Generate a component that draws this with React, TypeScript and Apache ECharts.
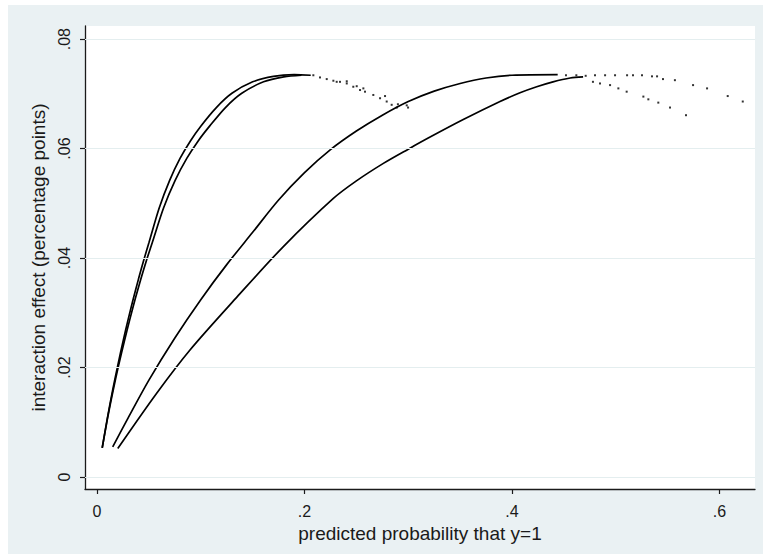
import React, { useEffect, useRef } from 'react';
import * as echarts from 'echarts';

const xTicks = [0, 0.2, 0.4, 0.6];
const xTickLabels = ['0', '.2', '.4', '.6'];
const yTicks = [0, 0.02, 0.04, 0.06, 0.08];
const yTickLabels = ['0', '.02', '.04', '.06', '.08'];

// Curve A (steepest, outer)
const aX = [0.005, 0.01, 0.015, 0.02, 0.025, 0.03, 0.035, 0.04, 0.045, 0.05, 0.06, 0.07, 0.08, 0.09, 0.1, 0.115, 0.13, 0.15, 0.17, 0.19, 0.206];
const aY = [0.0053, 0.0108, 0.0158, 0.0204, 0.0247, 0.0288, 0.0326, 0.0362, 0.0396, 0.0428, 0.0492, 0.0542, 0.0582, 0.0614, 0.0641, 0.0675, 0.0701, 0.0722, 0.0732, 0.0735, 0.0734];
const aTailX = [0.2085, 0.2149, 0.2214, 0.2278, 0.2342, 0.2407, 0.247, 0.2535, 0.2583, 0.2663, 0.2728, 0.2792, 0.284, 0.2889];
const aTailY = [0.0734, 0.073, 0.0727, 0.0724, 0.0722, 0.0719, 0.0713, 0.0707, 0.0704, 0.0698, 0.0692, 0.0686, 0.068, 0.0675];

// Curve B (steep, inner)
const bX = [0.005, 0.0102, 0.0155, 0.0208, 0.0262, 0.0316, 0.0369, 0.0423, 0.0477, 0.0532, 0.0642, 0.0753, 0.0865, 0.0975, 0.1085, 0.1238, 0.1395, 0.1605, 0.18, 0.197];
const bY = [0.0053, 0.0108, 0.0158, 0.0204, 0.0247, 0.0288, 0.0326, 0.0362, 0.0396, 0.0428, 0.0492, 0.0542, 0.0582, 0.0614, 0.0641, 0.0675, 0.0701, 0.0722, 0.0731, 0.0734];
const bTailX = [0.231, 0.2407, 0.2503, 0.2567, 0.2776, 0.29, 0.2985, 0.2998];
const bTailY = [0.0722, 0.0723, 0.0714, 0.071, 0.0696, 0.0681, 0.0679, 0.0675];

// Curve C (middle)
const cX = [0.0151, 0.03, 0.05, 0.075, 0.1, 0.125, 0.15, 0.175, 0.2, 0.225, 0.25, 0.275, 0.3, 0.325, 0.35, 0.375, 0.4, 0.444];
const cY = [0.0055, 0.0108, 0.0177, 0.0254, 0.0324, 0.0388, 0.0447, 0.0506, 0.0556, 0.0598, 0.0632, 0.0661, 0.0686, 0.0705, 0.0719, 0.0729, 0.0734, 0.0735];
const cTailX = [0.452, 0.462, 0.471, 0.48, 0.4897, 0.4993, 0.5109, 0.5166, 0.5253, 0.5349, 0.5398, 0.5455, 0.557, 0.5745, 0.588, 0.6079, 0.6224];
const cTailY = [0.0734, 0.0734, 0.0733, 0.0734, 0.0734, 0.0734, 0.0734, 0.0734, 0.0734, 0.0732, 0.0732, 0.0727, 0.0725, 0.0716, 0.071, 0.0696, 0.0686];

// Curve D (rightmost)
const dX = [0.02, 0.0575, 0.0896, 0.135, 0.1796, 0.2278, 0.25, 0.276, 0.3, 0.321, 0.353, 0.3884, 0.4077, 0.4238, 0.4395, 0.456, 0.4685];
const dY = [0.0052, 0.0153, 0.0232, 0.0329, 0.0421, 0.0509, 0.0541, 0.0573, 0.0599, 0.0621, 0.0653, 0.0686, 0.0702, 0.0713, 0.0722, 0.0729, 0.0731];
const dTailX = [0.478, 0.4848, 0.4945, 0.5025, 0.5105, 0.5266, 0.5314, 0.541, 0.5523, 0.5677];
const dTailY = [0.0722, 0.0719, 0.0716, 0.071, 0.0704, 0.0695, 0.069, 0.0684, 0.0675, 0.0661];

const zip = (xs: number[], ys: number[]) => xs.map((x, i) => [x, ys[i]]);
const fmt = (ticks: number[], labels: string[]) => (v: number) => {
  const i = ticks.findIndex((t) => Math.abs(t - v) < 1e-9);
  return i >= 0 ? labels[i] : '';
};

const FONT = "'Liberation Sans', Arial, sans-serif";
const INK = '#1a1a1a';

export default function App() {
  const ref = useRef<HTMLDivElement>(null);
  useEffect(() => {
    if (!ref.current) return;
    const chart = echarts.init(ref.current, undefined, { renderer: 'svg' });
    const lineSeries = (xs: number[], ys: number[]) => ({
      type: 'line',
      data: zip(xs, ys),
      showSymbol: false,
      smooth: 0.3,
      z: 3,
      lineStyle: { color: '#000', width: 1.7 },
      silent: true,
    });
    const dotSeries = (xs: number[], ys: number[]) => ({
      type: 'scatter',
      data: zip(xs, ys),
      symbol: 'rect',
      symbolSize: 2,
      z: 3,
      itemStyle: { color: '#000' },
      silent: true,
    });
    chart.setOption({
      animation: false,
      backgroundColor: '#eaf1f3',
      grid: {
        left: 77, right: 8, top: 21, bottom: 65,
        show: true, backgroundColor: '#ffffff', borderWidth: 0,
      },
      xAxis: {
        type: 'value',
        min: -0.0116,
        max: 0.6342,
        name: 'predicted probability that y=1',
        nameLocation: 'middle',
        nameGap: 30,
        nameTextStyle: { fontFamily: FONT, fontSize: 19, color: INK },
        axisLine: { show: true, onZero: false, lineStyle: { color: INK, width: 1.3 } },
        axisTick: { show: true, length: 5, customValues: xTicks, lineStyle: { color: INK, width: 1.2 } },
        axisLabel: {
          customValues: xTicks, formatter: fmt(xTicks, xTickLabels),
          margin: 14, fontFamily: FONT, fontSize: 16, color: INK,
        },
        splitLine: { show: false },
      },
      yAxis: {
        type: 'value',
        min: -0.0022,
        max: 0.0824,
        name: 'interaction effect (percentage points)',
        nameLocation: 'middle',
        nameRotate: 90,
        nameGap: 30,
        nameTextStyle: { fontFamily: FONT, fontSize: 19, color: INK },
        axisLine: { show: true, onZero: false, lineStyle: { color: INK, width: 1.3 } },
        axisTick: { show: true, length: 5, customValues: yTicks, lineStyle: { color: INK, width: 1.2 } },
        axisLabel: {
          customValues: yTicks, formatter: fmt(yTicks, yTickLabels),
          rotate: 90, margin: 13, fontFamily: FONT, fontSize: 16, color: INK,
        },
        splitLine: { show: false },
      },
      series: [
        {
          type: 'line', data: [], z: 1, silent: true,
          markLine: {
            silent: true, symbol: ['none', 'none'], label: { show: false },
            lineStyle: { color: '#e4eeef', width: 1.2, type: 'solid' },
            data: yTicks.map((v) => ({ yAxis: v })),
          },
        },
        lineSeries(aX, aY),
        lineSeries(bX, bY),
        lineSeries(cX, cY),
        lineSeries(dX, dY),
        dotSeries(aTailX, aTailY),
        dotSeries(bTailX, bTailY),
        dotSeries(cTailX, cTailY),
        dotSeries(dTailX, dTailY),
      ],
    });
    return () => chart.dispose();
  }, []);
  return (
    <div
      ref={ref}
      style={{ position: 'absolute', left: 8, top: 5, width: 755, height: 549 }}
    />
  );
}
